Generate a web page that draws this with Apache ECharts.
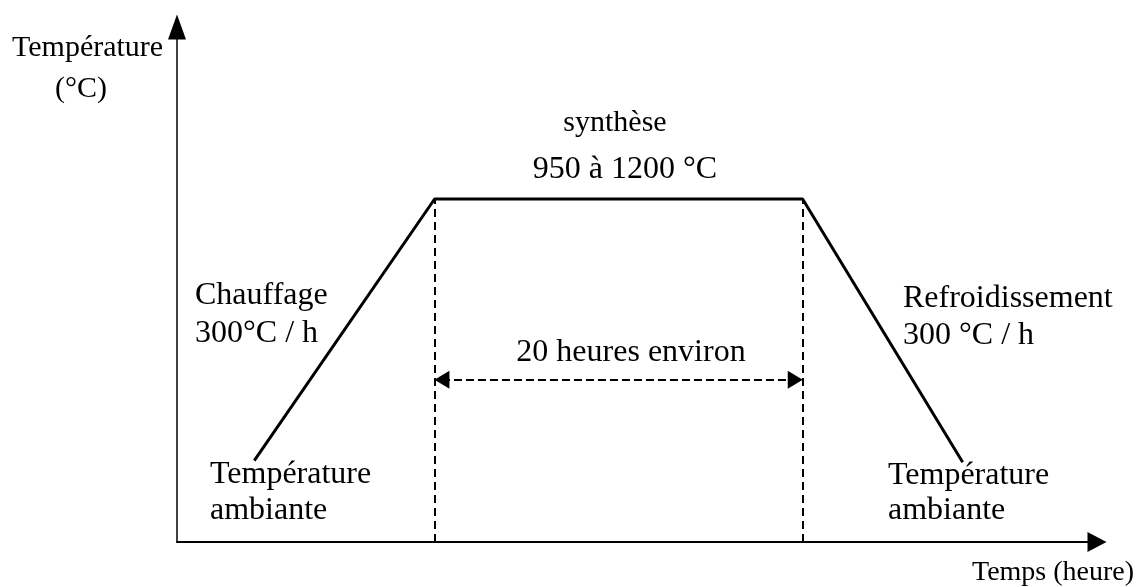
<!DOCTYPE html>
<html>
<head>
<meta charset="utf-8">
<title>Cycle thermique</title>
<script src="https://cdn.jsdelivr.net/npm/echarts@6/dist/echarts.min.js"></script>
<style>
  html, body { margin: 0; padding: 0; background: #fff; }
  #chart { width: 1137px; height: 587px; }
</style>
</head>
<body>
<div id="chart"></div>
<script>
// profil schématique : temps en heures, température en unités relatives (0-100)
const cycleTime = [4.2, 14, 34, 42.7];
const cycleTemp = [15.8, 66.6, 66.6, 15.5];
const plateauTime = [14, 34];      // début / fin du palier (~20 h)
const plateauTemp = 66.6;
const arrowTime = [14.4, 33.6];    // centres des pointes de la double flèche
const arrowTemp = 31.5;            // niveau de la double flèche
const timeRange = [0, 50];
const tempRange = [0, 100];

const axisNames = ['Température', '(°C)', 'Temps (heure)'];
const plateauLabels = ['synthèse', '950 à 1200 °C', '20 heures environ'];
const heatLabels = ['Chauffage', '300°C / h'];
const coolLabels = ['Refroidissement', '300 °C / h'];
const ambientLabels = ['Température', 'ambiante'];

const serif = '"Liberation Serif", "Times New Roman", serif';
const chart = echarts.init(document.getElementById('chart'));

// petit helper pour les textes posés sur le schéma
const txt = (text, x, y, align, size) => ({
  type: 'text',
  x: x,
  y: y,
  silent: true,
  style: {
    text: text,
    font: (size || 32) + 'px ' + serif,
    fill: '#000',
    align: align || 'left',
    verticalAlign: 'middle'
  }
});

const blackAxis = (size, width) => ({
  show: true,
  onZero: false,
  symbol: ['none', 'triangle'],
  symbolSize: size,
  lineStyle: { color: '#000', width: width }
});

const option = {
  animation: false,
  backgroundColor: '#fff',
  grid: { left: 177, right: 40, top: 27, bottom: 45, outerBoundsMode: 'none' },
  xAxis: {
    type: 'value',
    min: timeRange[0],
    max: timeRange[1],
    axisLine: blackAxis([20, 19], 2),
    axisTick: { show: false },
    axisLabel: { show: false },
    splitLine: { show: false }
  },
  yAxis: {
    type: 'value',
    min: tempRange[0],
    max: tempRange[1],
    axisLine: blackAxis([18, 25], 1.5),
    axisTick: { show: false },
    axisLabel: { show: false },
    splitLine: { show: false }
  },
  series: [
    {
      type: 'line',
      data: cycleTime.map((t, i) => [t, cycleTemp[i]]),
      symbol: 'none',
      silent: true,
      lineStyle: { color: '#000', width: 3 }
    },
    {
      // pointillés verticaux aux bornes du palier
      type: 'line',
      data: [],
      silent: true,
      markLine: {
        silent: true,
        symbol: ['none', 'none'],
        label: { show: false },
        emphasis: { disabled: true },
        lineStyle: { color: '#000', width: 2, type: [8, 5] },
        data: plateauTime.map(t => [
          { coord: [t, tempRange[0]] },
          { coord: [t, plateauTemp] }
        ])
      }
    },
    {
      // double flèche "20 heures environ"
      type: 'line',
      data: [],
      silent: true,
      markLine: {
        silent: true,
        symbol: ['triangle', 'triangle'],
        symbolSize: [18, 15],
        label: { show: false },
        emphasis: { disabled: true },
        lineStyle: { color: '#000', width: 2, type: [8, 4] },
        data: [[
          { coord: [arrowTime[0], arrowTemp] },
          { coord: [arrowTime[1], arrowTemp] }
        ]]
      }
    }
  ],
  graphic: [
    txt(axisNames[0], 12, 48, 'left', 30),
    txt(axisNames[1], 55, 89, 'left', 30),
    txt(axisNames[2], 972, 573, 'left', 28),
    txt(plateauLabels[0], 615, 123, 'center', 30),
    txt(plateauLabels[1], 625, 170, 'center'),
    txt(plateauLabels[2], 631, 353, 'center'),
    txt(heatLabels[0], 195, 296),
    txt(heatLabels[1], 195, 334),
    txt(coolLabels[0], 903, 299),
    txt(coolLabels[1], 903, 336),
    txt(ambientLabels[0], 210, 475),
    txt(ambientLabels[1], 210, 511),
    txt(ambientLabels[0], 888, 476),
    txt(ambientLabels[1], 888, 511)
  ]
};

chart.setOption(option);
</script>
</body>
</html>
